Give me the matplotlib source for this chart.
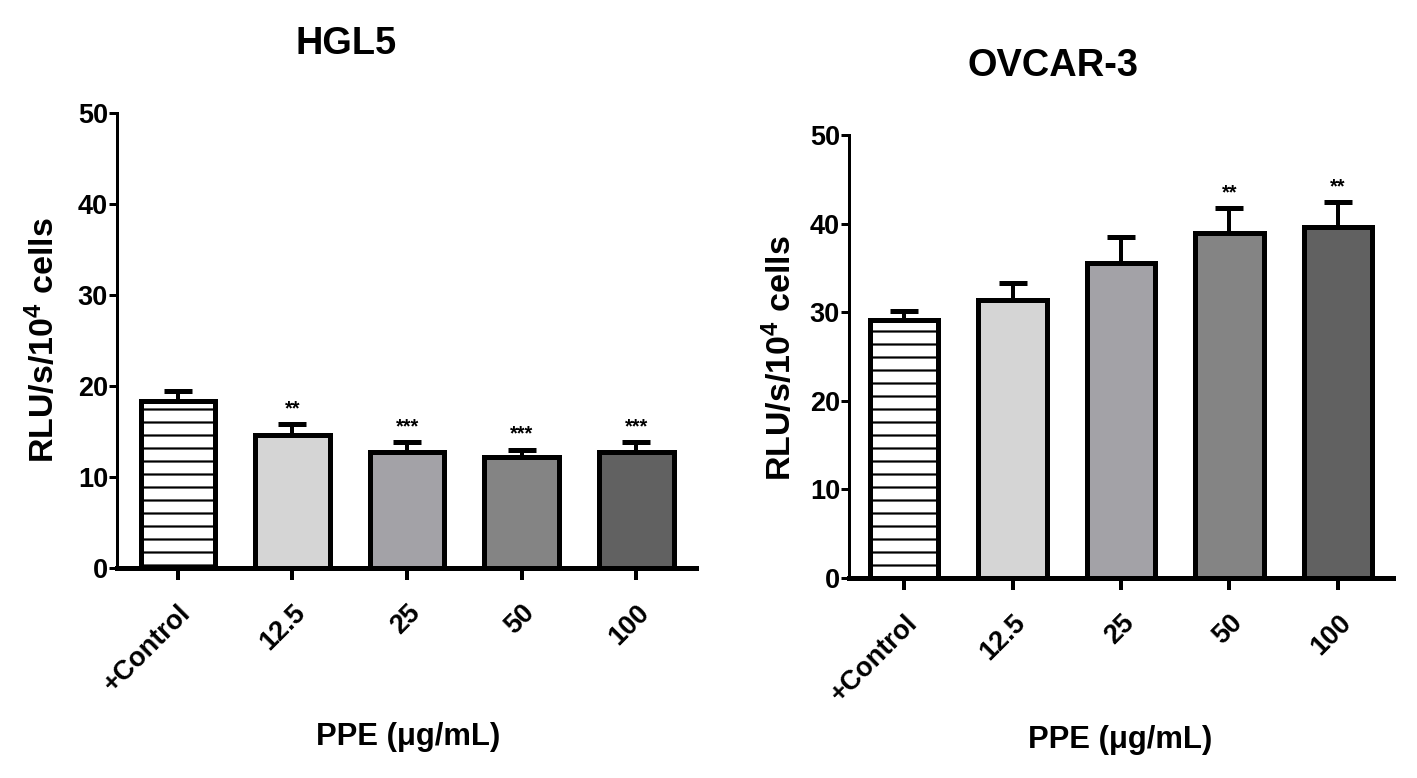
import numpy as np
import matplotlib.pyplot as plt

# resolucao baixa para o espacamento do hachurado ficar parecido
DPI = 78


def px(v):
    # converte pixels para pontos
    return v * 72 / DPI


categories = ['+Control', '12.5', '25', '50', '100']
bar_colors = ['white', '#d5d5d5', '#a3a2a7', '#848484', '#616161']

hgl5_mean = [18.4, 14.65, 12.7, 12.2, 12.7]
hgl5_err = [1.1, 1.15, 1.1, 0.8, 1.1]
hgl5_stars = ['', '**', '***', '***', '***']

ovcar_mean = [29.1, 31.4, 35.6, 38.9, 39.6]
ovcar_err = [1.0, 1.9, 2.9, 2.9, 2.8]
ovcar_stars = ['', '', '', '**', '**']

plt.rcParams['font.family'] = ['Liberation Sans', 'DejaVu Sans']
plt.rcParams['font.weight'] = 'bold'
plt.rcParams['mathtext.fontset'] = 'custom'
plt.rcParams['mathtext.rm'] = 'Liberation Sans:bold'
plt.rcParams['mathtext.bf'] = 'Liberation Sans:bold'
plt.rcParams['mathtext.default'] = 'bf'
plt.rcParams['hatch.linewidth'] = px(2.2)

fig = plt.figure(figsize=(1417 / DPI, 778 / DPI), dpi=DPI)


def painel(ax, mean, err, stars, width):
    x = np.arange(len(categories))
    bars = ax.bar(x, mean, width=width, color=bar_colors, edgecolor='black',
                  linewidth=px(5), zorder=3)
    bars[0].set_hatch('-')
    ax.errorbar(x, mean, yerr=[np.zeros(len(err)), err], fmt='none',
                ecolor='black', elinewidth=px(4), capsize=px(14),
                capthick=px(5), zorder=2)
    for xi, m, e, s in zip(x, mean, err, stars):
        if s:
            ax.text(xi, m + e + 1.7, s, ha='center', va='center',
                    fontsize=px(20), fontweight='bold')

    ax.set_ylim(0, 50)
    ax.set_yticks(range(0, 51, 10))
    ax.set_xticks(x)
    ax.set_xticklabels(categories, rotation=45, ha='right', va='top',
                       rotation_mode='anchor')
    ax.spines['top'].set_visible(False)
    ax.spines['right'].set_visible(False)
    ax.spines['bottom'].set_linewidth(px(5))
    ax.spines['left'].set_linewidth(px(3))
    ax.tick_params(axis='x', length=px(12), width=px(4), pad=px(20),
                   labelsize=px(27))
    ax.tick_params(axis='y', length=px(8), width=px(3), pad=px(1),
                   labelsize=px(27))
    for lbl in ax.get_yticklabels() + ax.get_xticklabels():
        lbl.set_fontweight('bold')


# painel esquerdo - HGL5
ax1 = fig.add_axes([117 / 1417, 1 - 568 / 778, 579 / 1417, 455 / 778])
painel(ax1, hgl5_mean, hgl5_err, hgl5_stars, 0.65)
ax1.set_xlim(-0.53, 4.52)

# painel direito - OVCAR-3
ax2 = fig.add_axes([849 / 1417, 1 - 578 / 778, 544 / 1417, 443 / 778])
painel(ax2, ovcar_mean, ovcar_err, ovcar_stars, 0.63)
ax2.set_xlim(-0.51, 4.51)

# titulos e rotulos dos eixos
fig.text(346 / 1417, 1 - 44 / 778, 'HGL5', ha='center', va='center',
         fontsize=px(38), fontweight='bold')
fig.text(1053 / 1417, 1 - 66 / 778, 'OVCAR-3', ha='center', va='center',
         fontsize=px(38), fontweight='bold')

ylab = 'RLU/s/10$^{4}$ cells'
fig.text(43 / 1417, 1 - 340 / 778, ylab, rotation=90, ha='center',
         va='center', fontsize=px(34), fontweight='bold')
fig.text(780 / 1417, 1 - 358 / 778, ylab, rotation=90, ha='center',
         va='center', fontsize=px(34), fontweight='bold')

xlab = 'PPE (\u03bcg/mL)'
fig.text(408 / 1417, 1 - 737 / 778, xlab, ha='center', va='center',
         fontsize=px(31), fontweight='bold')
fig.text(1120 / 1417, 1 - 740 / 778, xlab, ha='center', va='center',
         fontsize=px(31), fontweight='bold')

fig.savefig('out.png', dpi=DPI)
